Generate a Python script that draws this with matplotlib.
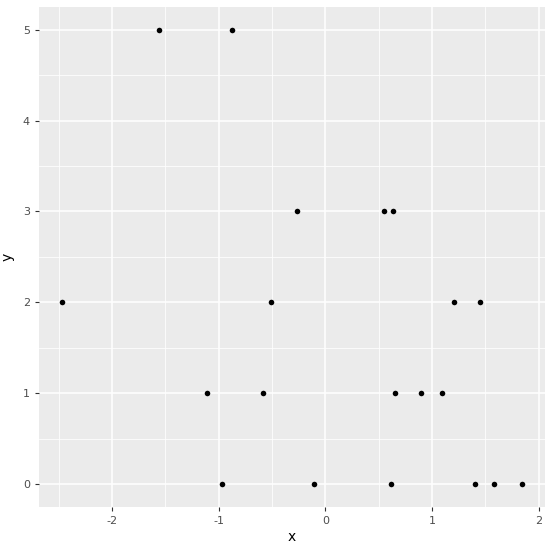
import numpy as np
import matplotlib
matplotlib.use("Agg")
import matplotlib.pyplot as plt

plt.rcParams["axes.unicode_minus"] = False

# data
x = [-2.47, -1.11, -0.97, -0.585, -0.507, -1.561, -0.876, -0.266, 0.55, 0.634,
     -0.107, 0.616, 1.404, 1.582, 1.844, 0.653, 0.897, 1.094, 1.204, 1.45]
y = [2, 1, 0, 1, 2, 5, 5, 3, 3, 3,
     0, 0, 0, 0, 0, 1, 1, 1, 2, 2]
xticks = [-2, -1, 0, 1, 2]
yticks = [0, 1, 2, 3, 4, 5]

W, H = 553, 552
fig = plt.figure(figsize=(W / 100, H / 100), dpi=100)
ax = fig.add_axes([39 / W, (H - 506.7) / H, (545 - 39) / W, (506.7 - 7) / H])
ax.set_facecolor("#ebebeb")

ax.scatter(x, y, s=16, color="black", zorder=3, linewidths=0)

ax.set_xlim(-2.686, 2.06)
ax.set_ylim(-0.25, 5.25)
ax.set_xticks(xticks)
ax.set_yticks(yticks)
ax.set_xticks(np.arange(-2.5, 2.1, 1.0), minor=True)
ax.set_yticks(np.arange(0.5, 5.0, 1.0), minor=True)
ax.grid(which="major", color="white", linewidth=1.1, zorder=0)
ax.grid(which="minor", color="white", linewidth=0.55, zorder=0)
ax.set_axisbelow(True)

for s in ax.spines.values():
    s.set_visible(False)
ax.tick_params(which="major", length=3, color="#333333", labelcolor="#4d4d4d",
               labelsize=8, width=0.8)
ax.tick_params(which="minor", length=0)

ax.set_xlabel("x", fontsize=10, labelpad=3)
ax.set_ylabel("y", fontsize=10, labelpad=6)

fig.savefig("out.png", dpi=100)
